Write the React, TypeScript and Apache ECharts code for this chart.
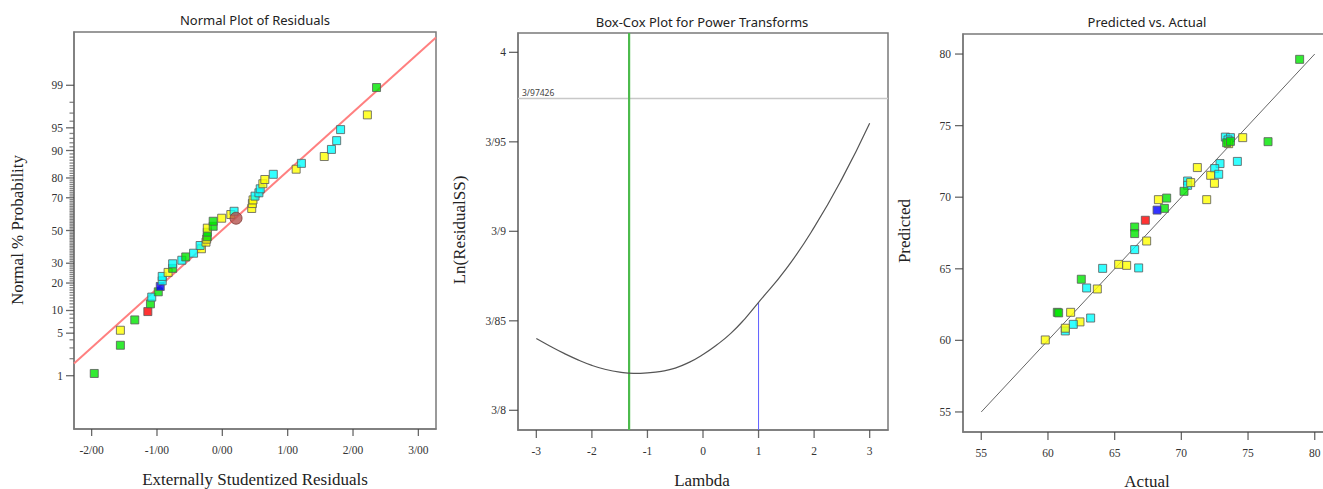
import React, { useEffect, useRef } from "react";
import * as echarts from "echarts";

const COLORS: Record<string, string> = { G: "#00e600", Y: "#ffff00", C: "#00ffff", B: "#0000ff", R: "#ff0000" };

// ---------- Normal plot of residuals ----------
const NP_RESID = [
  -1.96, -1.56, -1.56, -1.34, -1.14, -1.1, -1.08, -0.98, -0.95, -0.92, -0.92, -0.83, -0.76, -0.76, -0.62, -0.56,
  -0.44, -0.32, -0.34, -0.25, -0.24, -0.23, -0.23, -0.23, -0.14, -0.14, -0.01, 0.13, 0.18, 0.45, 0.46, 0.47, 0.5,
  0.56, 0.58, 0.62, 0.65, 0.78, 1.13, 1.21, 1.56, 1.67, 1.75, 1.81, 2.22, 2.36,
];
const NP_PROB = [
  1.1, 3.3, 5.5, 7.6, 9.7, 12.0, 14.3, 16.3, 18.5, 21.0, 23.1, 25.1, 27.2, 29.7, 31.7, 33.6, 35.8, 38.5, 40.5, 42.6,
  44.5, 46.0, 48.9, 51.5, 52.7, 55.9, 57.8, 60.1, 62.1, 63.8, 66.7, 68.8, 70.9, 72.7, 74.8, 77.3, 79.3, 81.6, 83.7,
  85.9, 88.2, 90.3, 92.5, 94.7, 96.8, 98.9,
];
const NP_COLOR = [
  "G", "G", "Y", "G", "R", "G", "C", "G", "B", "C", "C", "Y", "G", "C", "C", "G", "C", "Y", "C", "Y", "Y", "G", "G",
  "Y", "G", "G", "Y", "Y", "C", "Y", "Y", "Y", "C", "C", "C", "Y", "Y", "C", "Y", "C", "Y", "C", "C", "C", "Y", "G",
];
const NP_CURSOR = [0.21, 57.8];
const NP_LINE_X = [-2.27, 3.27];
const NP_LINE_P = [1.66, 99.9];
const NP_TICKS = [1, 5, 10, 20, 30, 50, 70, 80, 90, 95, 99];
const NP_X_TICKS = [-2, -1, 0, 1, 2, 3];
const NP_X_MIN = -2.27;
const NP_X_MAX = 3.27;
const NP_Z_MIN = -3.18;
const NP_Z_MAX = 3.18;

// ---------- Box-Cox ----------
const BC_LAMBDA = [-3, -2.75, -2.5, -2.25, -2, -1.75, -1.5, -1.25, -1, -0.75, -0.5, -0.25, 0, 0.25, 0.5, 0.75, 1, 1.5, 2, 2.5, 3];
const BC_LN = [
  3.8401, 3.8358, 3.8318, 3.8282, 3.8251, 3.8228, 3.8213, 3.8206, 3.8209, 3.8218, 3.8236, 3.8268, 3.8312, 3.8366,
  3.843, 3.851, 3.8603, 3.8791, 3.9022, 3.9293, 3.9604,
];
const BC_BEST_LAMBDA = -1.33;
const BC_CURRENT_LAMBDA = 1;
const BC_CURRENT_LN = 3.8603;
const BC_CI = 3.97426;
const BC_X_TICKS = [-3, -2, -1, 0, 1, 2, 3];
const BC_Y_TICKS = [3.8, 3.85, 3.9, 3.95, 4];
const BC_X_MIN = -3.33;
const BC_X_MAX = 3.33;
const BC_Y_MIN = 3.789;
const BC_Y_MAX = 4.0108;

// ---------- Predicted vs Actual ----------
const PA_ACTUAL = [
  78.87, 76.5, 74.6, 73.3, 73.68, 73.5, 73.55, 73.4, 73.68, 74.2, 72.9, 72.5, 72.2, 72.8, 72.48, 71.2, 71.9, 70.47,
  70.47, 70.7, 70.2, 68.28, 68.9, 68.73, 68.18, 67.3, 66.5, 66.5, 67.4, 66.5, 65.3, 65.9, 66.8, 64.1, 62.5, 62.9,
  63.7, 60.7, 60.8, 61.7, 63.2, 62.4, 61.9, 61.3, 61.3, 59.8,
];
const PA_PRED = [
  79.63, 73.88, 74.16, 74.2, 74.16, 74.0, 73.74, 73.8, 73.9, 72.5, 72.35, 72.0, 71.53, 71.6, 70.97, 72.07, 69.83,
  71.13, 70.83, 71.02, 70.41, 69.83, 69.94, 69.22, 69.1, 68.39, 67.92, 67.46, 66.94, 66.34, 65.31, 65.24, 65.06,
  65.03, 64.27, 63.66, 63.59, 61.96, 61.92, 61.96, 61.56, 61.29, 61.12, 60.66, 60.85, 60.03,
];
const PA_COLOR = [
  "G", "G", "Y", "C", "C", "C", "Y", "G", "G", "C", "C", "C", "Y", "C", "Y", "Y", "Y", "C", "C", "Y", "G", "Y", "G",
  "G", "B", "R", "G", "G", "Y", "C", "Y", "Y", "C", "C", "G", "C", "Y", "G", "G", "Y", "C", "Y", "C", "C", "Y", "Y",
];
const PA_FIT = [55, 80];
const PA_TICKS = [55, 60, 65, 70, 75, 80];
const PA_X_MIN = 53.63;
const PA_X_MAX = 81.37;
const PA_Y_MIN = 53.6;
const PA_Y_MAX = 81.4;

function probit(p: number): number {
  const a = [-39.69683028665376, 220.9460984245205, -275.9285104469687, 138.357751867269, -30.66479806614716, 2.506628277459239];
  const b = [-54.47609879822406, 161.5858368580409, -155.6989798598866, 66.80131188771972, -13.28068155288572];
  const c = [-0.007784894002430293, -0.3223964580411365, -2.400758277161838, -2.549732539343734, 4.374664141464968, 2.938163982698783];
  const d = [0.007784695709041462, 0.3224671290700398, 2.445134137142996, 3.754408661907416];
  const pl = 0.02425;
  if (p < pl) {
    const q = Math.sqrt(-2 * Math.log(p));
    return (((((c[0] * q + c[1]) * q + c[2]) * q + c[3]) * q + c[4]) * q + c[5]) / ((((d[0] * q + d[1]) * q + d[2]) * q + d[3]) * q + 1);
  }
  if (p <= 1 - pl) {
    const q = p - 0.5;
    const r = q * q;
    return ((((((a[0] * r + a[1]) * r + a[2]) * r + a[3]) * r + a[4]) * r + a[5]) * q) /
      (((((b[0] * r + b[1]) * r + b[2]) * r + b[3]) * r + b[4]) * r + 1);
  }
  const q = Math.sqrt(-2 * Math.log(1 - p));
  return -(((((c[0] * q + c[1]) * q + c[2]) * q + c[3]) * q + c[4]) * q + c[5]) / ((((d[0] * q + d[1]) * q + d[2]) * q + d[3]) * q + 1);
}
const z = (pct: number) => probit(pct / 100);

const SERIF = "Liberation Serif";
const SANS = "Noto Sans";
const AXIS_GRAY = "#7a7a7a";
const TICK_GRAY = "#444";
const LABEL_COLOR = "#333";

// tick marks drawn as thin rect symbols placed through the axes' own scales
function xTicks(xi: number, values: number[], yMin: number, len = 8) {
  return {
    type: "scatter", xAxisIndex: xi, yAxisIndex: xi, silent: true, clip: false, z: 6,
    symbol: "rect", symbolSize: [1.3, len], symbolOffset: [0, len / 2],
    itemStyle: { color: TICK_GRAY },
    data: values.map((v) => [v, yMin]),
  };
}
function yTicks(yi: number, values: number[], xMin: number, len = 8, color = TICK_GRAY) {
  return {
    type: "scatter", xAxisIndex: yi, yAxisIndex: yi, silent: true, clip: false, z: 6,
    symbol: "rect", symbolSize: [len, 1.3], symbolOffset: [-len / 2, 0],
    itemStyle: { color },
    data: values.map((v) => [xMin, v]),
  };
}

function buildOption() {
  const npMajorZ = NP_TICKS.map(z);
  const npMinorP: number[] = [];
  for (let p = 2; p <= 98; p++) if (!NP_TICKS.includes(p)) npMinorP.push(p);
  const npMinorZ = npMinorP.map(z);

  const tickLabel = { color: LABEL_COLOR, fontFamily: SERIF, fontSize: 11.5 };
  const axisLine = { show: true, onZero: false, lineStyle: { color: AXIS_GRAY, width: 1.5 } };
  const noTick = { show: false };

  const grids = [
    { left: 74, top: 32, width: 362, height: 397 },
    { left: 518, top: 33, width: 370, height: 397 },
    { left: 963, top: 34, width: 370, height: 398 },
  ].map((g) => ({ ...g, show: true, borderColor: AXIS_GRAY, borderWidth: 1.5, backgroundColor: "transparent" }));

  const xAxis = [
    {
      gridIndex: 0, type: "value", min: NP_X_MIN, max: NP_X_MAX,
      axisLine, splitLine: { show: false }, axisTick: noTick,
      axisLabel: { ...tickLabel, margin: 15, customValues: NP_X_TICKS, formatter: (v: number) => v.toFixed(2).replace(".", "/") },
    },
    {
      gridIndex: 1, type: "value", min: BC_X_MIN, max: BC_X_MAX,
      axisLine, splitLine: { show: false }, axisTick: noTick,
      axisLabel: { ...tickLabel, margin: 15, customValues: BC_X_TICKS, formatter: (v: number) => String(v) },
    },
    {
      gridIndex: 2, type: "value", min: PA_X_MIN, max: PA_X_MAX,
      axisLine, splitLine: { show: false }, axisTick: noTick,
      axisLabel: { ...tickLabel, margin: 15, customValues: PA_TICKS, formatter: (v: number) => String(v) },
    },
  ];

  const yAxis = [
    {
      gridIndex: 0, type: "value", min: NP_Z_MIN, max: NP_Z_MAX,
      axisLine, splitLine: { show: false }, axisTick: noTick,
      axisLabel: {
        ...tickLabel, margin: 11, customValues: npMajorZ,
        formatter: (v: number) => {
          let best = 0;
          npMajorZ.forEach((m, i) => { if (Math.abs(m - v) < Math.abs(npMajorZ[best] - v)) best = i; });
          return String(NP_TICKS[best]);
        },
      },
    },
    {
      gridIndex: 1, type: "value", min: BC_Y_MIN, max: BC_Y_MAX,
      axisLine, splitLine: { show: false }, axisTick: noTick,
      axisLabel: {
        ...tickLabel, margin: 12, customValues: BC_Y_TICKS,
        formatter: (v: number) => String(+v.toFixed(4)).replace(".", "/"),
      },
    },
    {
      gridIndex: 2, type: "value", min: PA_Y_MIN, max: PA_Y_MAX,
      axisLine, splitLine: { show: false }, axisTick: noTick,
      axisLabel: { ...tickLabel, margin: 12, customValues: PA_TICKS, formatter: (v: number) => String(v) },
    },
  ];

  const sq = { symbol: "rect", symbolSize: 8 };
  const itemFor = (x: number, y: number, key: string) => ({
    value: [x, y],
    itemStyle: { color: COLORS[key], borderColor: "#5a5a5a", borderWidth: 1 },
  });

  const series: any[] = [
    xTicks(0, NP_X_TICKS, NP_Z_MIN, 7),
    yTicks(0, npMajorZ, NP_X_MIN, 8),
    yTicks(0, npMinorZ, NP_X_MIN, 4.5, "#666"),
    xTicks(1, BC_X_TICKS, BC_Y_MIN, 8),
    yTicks(1, BC_Y_TICKS, BC_X_MIN, 9),
    xTicks(2, PA_TICKS, PA_Y_MIN, 8),
    yTicks(2, PA_TICKS, PA_X_MIN, 8),
    {
      type: "line", xAxisIndex: 0, yAxisIndex: 0, silent: true, showSymbol: false, symbol: "none", z: 2,
      data: NP_LINE_X.map((x, i) => [x, z(NP_LINE_P[i])]),
      lineStyle: { color: "#ff8080", width: 2 },
    },
    {
      type: "scatter", xAxisIndex: 0, yAxisIndex: 0, ...sq, z: 3,
      data: NP_RESID.map((x, i) => itemFor(x, z(NP_PROB[i]), NP_COLOR[i])),
    },
    {
      type: "scatter", xAxisIndex: 0, yAxisIndex: 0, symbol: "circle", symbolSize: 12, z: 4,
      data: [[NP_CURSOR[0], z(NP_CURSOR[1])]],
      itemStyle: { color: "#b5524e", borderColor: "#7d3a36", borderWidth: 1 },
    },
    {
      type: "line", xAxisIndex: 1, yAxisIndex: 1, silent: true, symbol: "none", z: 2,
      data: [[BC_X_MIN, BC_CI], [BC_X_MAX, BC_CI]],
      lineStyle: { color: "#c8c8c8", width: 1.5 },
    },
    {
      type: "line", xAxisIndex: 1, yAxisIndex: 1, silent: true, symbol: "none", z: 3,
      data: [[BC_BEST_LAMBDA, BC_Y_MIN], [BC_BEST_LAMBDA, BC_Y_MAX]],
      lineStyle: { color: "#4cbb4c", width: 2.2 },
    },
    {
      type: "line", xAxisIndex: 1, yAxisIndex: 1, silent: true, symbol: "none", z: 3,
      data: [[BC_CURRENT_LAMBDA, BC_Y_MIN], [BC_CURRENT_LAMBDA, BC_CURRENT_LN]],
      lineStyle: { color: "#6060ff", width: 1 },
    },
    {
      type: "line", xAxisIndex: 1, yAxisIndex: 1, silent: true, symbol: "none", smooth: true, z: 4,
      data: BC_LAMBDA.map((l, i) => [l, BC_LN[i]]),
      lineStyle: { color: "#555", width: 1.2 },
    },
    {
      type: "line", xAxisIndex: 2, yAxisIndex: 2, silent: true, symbol: "none", z: 2,
      data: [[PA_FIT[0], PA_FIT[0]], [PA_FIT[1], PA_FIT[1]]],
      lineStyle: { color: "#666", width: 1 },
    },
    {
      type: "scatter", xAxisIndex: 2, yAxisIndex: 2, ...sq, z: 3,
      data: PA_ACTUAL.map((x, i) => itemFor(x, PA_PRED[i], PA_COLOR[i])),
    },
  ];

  const txt = (text: string, x: number, y: number, size: number, family: string, rot = 0, fill = "#222") => ({
    type: "text", x, y, rotation: rot, silent: true, z: 10,
    style: {
      text, fontSize: size, fontFamily: family, fill,
      align: "center", verticalAlign: "middle", textAlign: "center", textVerticalAlign: "middle",
    },
  });

  const graphic = [
    txt("Normal Plot of Residuals", 255, 20, 13, SANS),
    txt("Box-Cox Plot for Power Transforms", 702, 22, 13, SANS),
    txt("Predicted vs. Actual", 1147, 22, 13, SANS),
    txt("Externally Studentized Residuals", 255, 479, 17, SERIF),
    txt("Lambda", 702, 480, 17, SERIF),
    txt("Actual", 1147, 481, 17, SERIF),
    txt("Normal % Probability", 17, 230, 17, SERIF, Math.PI / 2),
    txt("Ln(ResidualSS)", 459, 230, 17, SERIF, Math.PI / 2),
    txt("Predicted", 904, 231, 17, SERIF, Math.PI / 2),
    {
      type: "text", x: 522, y: 92, silent: true, z: 10,
      style: { text: "3/97426", fontSize: 8.5, fontFamily: SANS, fill: "#444", align: "left", verticalAlign: "middle", textAlign: "left", textVerticalAlign: "middle" },
    },
  ];

  return { animation: false, backgroundColor: "#fff", grid: grids, xAxis, yAxis, series, graphic };
}

export default function App() {
  const ref = useRef<HTMLDivElement>(null);
  useEffect(() => {
    if (!ref.current) return;
    const chart = echarts.init(ref.current, undefined, { renderer: "svg" });
    chart.setOption(buildOption() as any);
    return () => chart.dispose();
  }, []);
  return (
    <div style={{ position: "fixed", left: 0, top: 0, width: 1323, height: 489, overflow: "hidden", background: "#fff" }}>
      <div ref={ref} style={{ width: 1345, height: 489 }} />
    </div>
  );
}
